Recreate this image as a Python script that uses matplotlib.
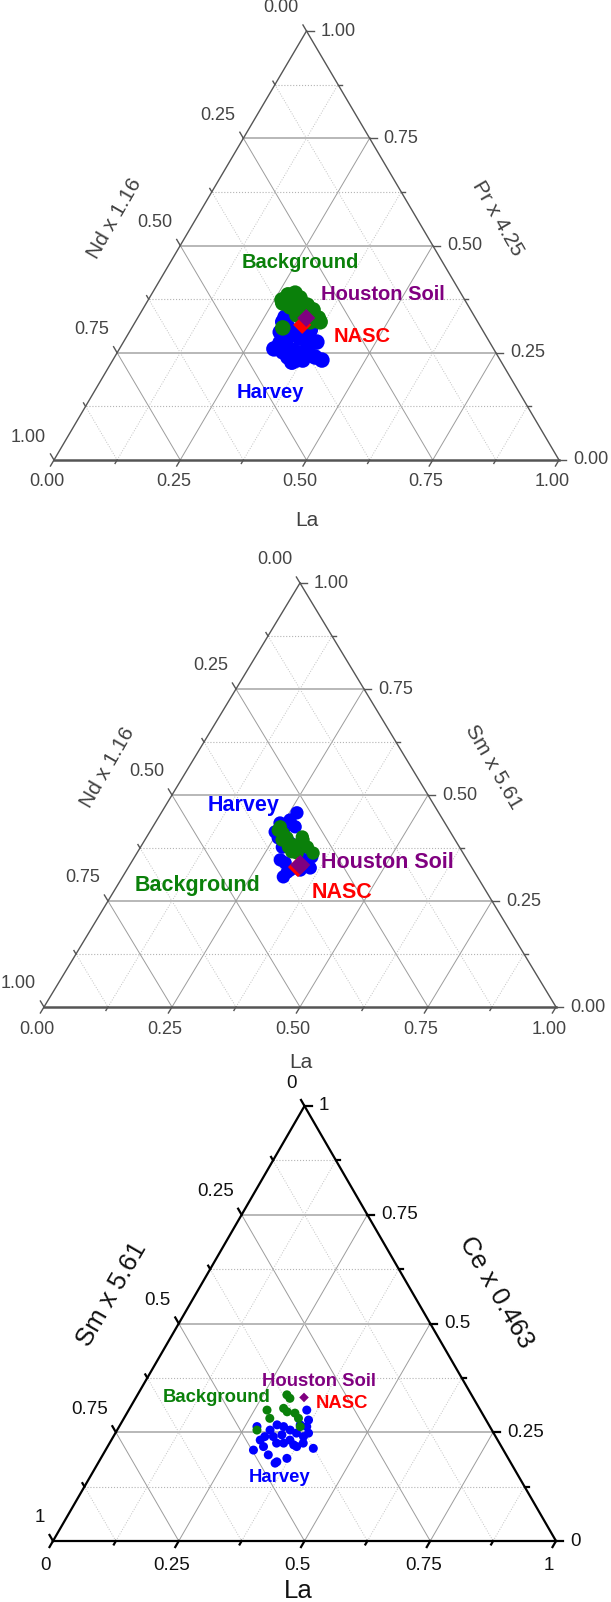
import numpy as np
import matplotlib.pyplot as plt

plt.rcParams['font.family'] = ['Liberation Sans', 'DejaVu Sans']

FIG_W, FIG_H = 611, 1602

# fractions: (La on bottom axis, component on the right axis / top corner)
# panel 1 : La - Pr x 4.25 - Nd x 1.16
p1_harvey_la = [0.306, 0.311, 0.330, 0.327, 0.343, 0.345, 0.363, 0.373, 0.374, 0.383, 0.414, 0.397, 0.376,
                0.364, 0.357, 0.317, 0.322, 0.328, 0.345, 0.359, 0.299, 0.292, 0.308, 0.356, 0.342, 0.291]
p1_harvey_pr = [0.259, 0.273, 0.263, 0.252, 0.240, 0.256, 0.249, 0.256, 0.273, 0.275, 0.233, 0.240, 0.233,
                0.233, 0.228, 0.280, 0.291, 0.298, 0.284, 0.284, 0.298, 0.322, 0.310, 0.303, 0.303, 0.333]
p1_bg_la = [0.271, 0.283, 0.298, 0.270, 0.289, 0.321, 0.338, 0.358, 0.366, 0.346, 0.299, 0.308, 0.312, 0.265]
p1_bg_pr = [0.385, 0.389, 0.378, 0.366, 0.357, 0.361, 0.350, 0.331, 0.322, 0.322, 0.308, 0.366, 0.338, 0.373]
p1_houston = [0.334, 0.331]
p1_nasc = [0.334, 0.315]

# panel 2 : La - Sm x 5.61 - Nd x 1.16
p2_harvey_la = [0.265, 0.260, 0.259, 0.245, 0.258, 0.277, 0.288, 0.301, 0.316, 0.314, 0.319, 0.339, 0.356,
                0.341, 0.346, 0.315, 0.287, 0.244, 0.278]
p2_harvey_sm = [0.458, 0.441, 0.417, 0.413, 0.399, 0.377, 0.347, 0.340, 0.318, 0.307, 0.323, 0.323, 0.328,
                0.347, 0.354, 0.370, 0.387, 0.434, 0.425]
p2_bg_la = [0.249, 0.262, 0.268, 0.289, 0.301, 0.313, 0.309, 0.326, 0.344, 0.304, 0.275, 0.299, 0.249]
p2_bg_sm = [0.425, 0.410, 0.394, 0.377, 0.366, 0.363, 0.394, 0.377, 0.363, 0.401, 0.399, 0.382, 0.417]
p2_houston = [0.333, 0.335]
p2_nasc = [0.331, 0.330]

# panel 3 : La - Ce x 0.463 - Sm x 5.61
p3_harvey_la = [0.354, 0.369, 0.373, 0.384, 0.378, 0.360, 0.344, 0.327, 0.312, 0.304, 0.301, 0.296, 0.274,
                0.294, 0.329, 0.354, 0.370, 0.411, 0.368, 0.346, 0.332, 0.385, 0.318, 0.333, 0.358, 0.355,
                0.310, 0.376, 0.352]
p3_harvey_ce = [0.301, 0.278, 0.263, 0.248, 0.240, 0.248, 0.255, 0.263, 0.267, 0.255, 0.240, 0.232, 0.263,
                0.209, 0.198, 0.182, 0.190, 0.213, 0.221, 0.225, 0.225, 0.225, 0.240, 0.244, 0.267, 0.232,
                0.217, 0.217, 0.179]
p3_bg_la = [0.297, 0.307, 0.275, 0.290, 0.306, 0.317, 0.334, 0.347, 0.360, 0.278]
p3_bg_ce = [0.336, 0.328, 0.301, 0.282, 0.305, 0.297, 0.294, 0.282, 0.263, 0.255]
p3_houston = [0.334, 0.330]

ticks_long = ['0.00', '0.25', '0.50', '0.75', '1.00']
ticks_short = ['0', '0.25', '0.5', '0.75', '1']

BLUE, GREEN, PURPLE, RED = '#0000ff', '#0a800a', '#800080', '#ff0000'

fig = plt.figure(figsize=(FIG_W / 100, FIG_H / 100), dpi=100)


def xy(la, top):
    la = np.asarray(la, float)
    top = np.asarray(top, float)
    return la + top / 2, top


def make_panel(left, right, base, apex):
    ax = fig.add_axes([left / FIG_W, 1 - base / FIG_H, (right - left) / FIG_W, (base - apex) / FIG_H])
    ax.set_xlim(0, 1)
    ax.set_ylim(0, 1)
    ax.axis('off')
    return ax, right - left, base - apex


def draw_frame(ax, wpx, hpx, edge_col, edge_lw, base_lw, labels, fs, tcol, down):
    for k in range(1, 8):
        v = k / 8
        major = k % 2 == 0
        x, y = xy([0, 1 - v], [v, v])
        if major:
            ax.plot(x, y, color='#b8b8b8', lw=1.4, zorder=1)
        else:
            ax.plot(x, y, color='#b4b4b4', lw=0.8, ls=':', zorder=1)
        for xx, yy in (xy([v, v], [0, 1 - v]), xy([0, 1 - v], [1 - v, 0])):
            if major:
                ax.plot(xx, yy, color='#9c9c9c', lw=0.7, zorder=1)
            else:
                ax.plot(xx, yy, color='#c2c2c2', lw=0.7, ls=':', zorder=1)
    ax.plot(*xy([0, 0], [0, 1]), color=edge_col, lw=edge_lw, zorder=2, clip_on=False)
    ax.plot(*xy([1, 0], [0, 1]), color=edge_col, lw=edge_lw, zorder=2, clip_on=False)
    ax.plot(*xy([0, 1], [0, 0]), color=edge_col, lw=base_lw, zorder=2, clip_on=False)

    out_b = np.array([-0.5 * wpx, -hpx])
    out_b /= np.hypot(*out_b)
    out_r = np.array([1.0, 0.0])
    out_l = np.array([-0.5 * wpx, hpx])
    out_l /= np.hypot(*out_l)
    for k in range(9):
        v = k / 8
        n = 7 if k % 2 == 0 else 4
        for (px, py), d in ((xy(v, 0), out_b), (xy(1 - v, v), out_r), (xy(0, 1 - v), out_l)):
            ax.plot([px, px + d[0] * n / wpx], [py, py + d[1] * n / hpx],
                    color=edge_col, lw=edge_lw, zorder=2, clip_on=False)
        if k % 2 == 0:
            s = labels[k // 2]
            ax.annotate(s, xy(v, 0), xytext=(-7, -down), textcoords='offset pixels',
                        ha='center', va='center', fontsize=fs, color=tcol)
            ax.annotate(s, xy(1 - v, v), xytext=(14, 0), textcoords='offset pixels',
                        ha='left', va='center', fontsize=fs, color=tcol)
            ax.annotate(s, xy(0, 1 - v), xytext=(-8, 23), textcoords='offset pixels',
                        ha='right', va='center', fontsize=fs, color=tcol)


def ptext(px, py, s, **kw):
    fig.text(px / FIG_W, 1 - py / FIG_H, s, ha='center', va='center', **kw)


# ---------------- panel 1 ----------------
ax, wpx, hpx = make_panel(54, 559, 460, 31)
draw_frame(ax, wpx, hpx, '#555555', 1.0, 1.8, ticks_long, 13, '#444444', 22)
ax.scatter(*xy(p1_harvey_la, p1_harvey_pr), s=125, c=BLUE, edgecolors='none', zorder=3)
ax.scatter(*xy(p1_bg_la, p1_bg_pr), s=125, c=GREEN, edgecolors='none', zorder=4)
ax.scatter(*xy(*p1_nasc), s=85, c=RED, marker='D', edgecolors='none', zorder=5)
ax.scatter(*xy(*p1_houston), s=85, c=PURPLE, marker='D', edgecolors='none', zorder=6)
ptext(115, 218, 'Nd x 1.16', rotation=60, fontsize=15, color='#404040')
ptext(498, 218, 'Pr x 4.25', rotation=-60, fontsize=15, color='#404040')
ptext(307, 521, 'La', fontsize=15, color='#404040')
ptext(300, 263, 'Background', fontsize=14.5, fontweight='bold', color=GREEN)
ptext(383, 294, 'Houston Soil', fontsize=14.5, fontweight='bold', color=PURPLE)
ptext(362, 337, 'NASC', fontsize=14.5, fontweight='bold', color=RED)
ptext(270, 392, 'Harvey', fontsize=14.5, fontweight='bold', color=BLUE)

# ---------------- panel 2 ----------------
ax, wpx, hpx = make_panel(44, 556, 1007, 583)
draw_frame(ax, wpx, hpx, '#555555', 1.0, 1.8, ticks_long, 13, '#444444', 22)
ax.scatter(*xy(p2_harvey_la, p2_harvey_sm), s=92, c=BLUE, edgecolors='none', zorder=3)
ax.scatter(*xy(p2_bg_la, p2_bg_sm), s=92, c=GREEN, edgecolors='none', zorder=4)
ax.scatter(*xy(*p2_nasc), s=104, c=RED, marker='D', edgecolors='none', zorder=5)
ax.scatter(*xy(*p2_houston), s=104, c=PURPLE, marker='D', edgecolors='none', zorder=6)
ptext(108, 767, 'Nd x 1.16', rotation=60, fontsize=15, color='#404040')
ptext(493, 767, 'Sm x 5.61', rotation=-60, fontsize=15, color='#404040')
ptext(301, 1062, 'La', fontsize=15, color='#404040')
ptext(244, 805, 'Harvey', fontsize=15.5, fontweight='bold', color=BLUE)
ptext(198, 886, 'Background', fontsize=15.5, fontweight='bold', color=GREEN)
ptext(387, 863, 'Houston Soil', fontsize=15.5, fontweight='bold', color=PURPLE)
ptext(342, 893, 'NASC', fontsize=15.5, fontweight='bold', color=RED)

# ---------------- panel 3 ----------------
ax, wpx, hpx = make_panel(53, 556, 1541, 1106)
draw_frame(ax, wpx, hpx, '#000000', 1.6, 1.6, ticks_short, 13.5, '#111111', 24)
ax.scatter(*xy(p3_harvey_la, p3_harvey_ce), s=42, c=BLUE, edgecolors='none', zorder=3)
ax.scatter(*xy(p3_bg_la, p3_bg_ce), s=42, c=GREEN, edgecolors='none', zorder=4)
ax.scatter(*xy(*p3_houston), s=24, c=PURPLE, marker='D', edgecolors='none', zorder=6)
ptext(112, 1294, 'Sm x 5.61', rotation=60, fontsize=18.5, color='#111111')
ptext(496, 1292, 'Ce x 0.463', rotation=-60, fontsize=18.5, color='#111111')
ptext(298, 1591, 'La', fontsize=18.5, color='#111111')
ptext(319, 1382, 'Houston Soil', fontsize=13.3, fontweight='bold', color=PURPLE)
ptext(217, 1398, 'Background', fontsize=13.3, fontweight='bold', color=GREEN)
ptext(342, 1404, 'NASC', fontsize=13.3, fontweight='bold', color=RED)
ptext(280, 1478, 'Harvey', fontsize=13.3, fontweight='bold', color=BLUE)

fig.savefig('out.png', dpi=100)
